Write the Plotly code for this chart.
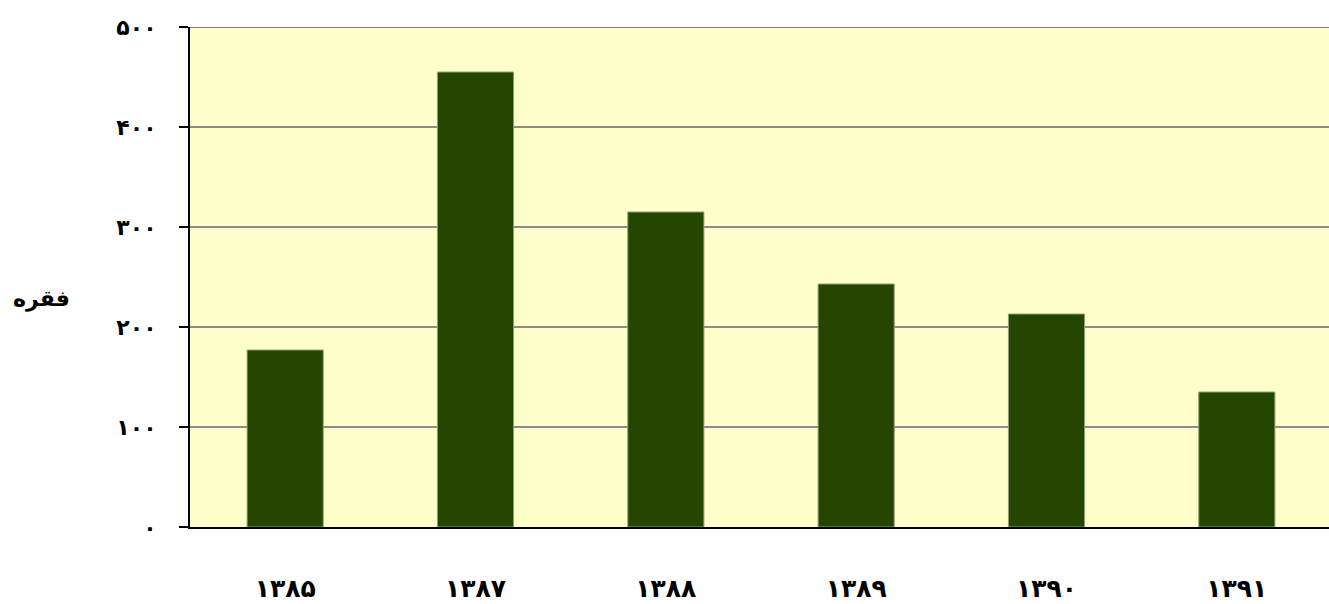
import plotly.graph_objects as go

categories = ["۱۳۸۵", "۱۳۸۷", "۱۳۸۸", "۱۳۸۹", "۱۳۹۰", "۱۳۹۱"]
values = [177, 455, 315, 243, 213, 135]
ytick_vals = [0, 100, 200, 300, 400, 500]
ytick_text = ["۰", "۱۰۰", "۲۰۰", "۳۰۰", "۴۰۰", "۵۰۰"]
y_title = "فقره"

fig = go.Figure()
fig.add_trace(go.Bar(
    x=categories, y=values,
    marker=dict(color="#254600", line=dict(color="#8f9f6f", width=1)),
))

fig.update_layout(
    width=1332, height=604,
    margin=dict(l=190, r=0, t=27, b=77),
    paper_bgcolor="white",
    plot_bgcolor="#ffffcc",
    bargap=0.6,
    showlegend=False,
    font=dict(family="DejaVu Sans", color="black"),
)
fig.update_xaxes(
    showline=True, linecolor="black", linewidth=2,
    ticks="", showgrid=False, automargin=False,
    tickfont=dict(size=25, family="DejaVu Sans", weight="bold"),
    ticklabelstandoff=38,
)
fig.update_yaxes(
    range=[0, 500], automargin=False,
    tickvals=ytick_vals, ticktext=ytick_text,
    showline=True, linecolor="black", linewidth=2,
    ticks="outside", ticklen=9, tickcolor="black", tickwidth=1.5,
    showgrid=True, gridcolor="#8c8c8c", gridwidth=1.5,
    tickfont=dict(size=22, family="DejaVu Sans", weight="bold"),
    ticklabelstandoff=18,
    zeroline=False,
)
# top gridline at the range maximum
fig.add_shape(type="line", xref="paper", yref="y", x0=0, x1=1,
              y0=ytick_vals[-1], y1=ytick_vals[-1],
              line=dict(color="#555555", width=1.5), layer="above")
fig.add_annotation(
    text=y_title, xref="paper", yref="paper", x=-0.13, y=0.455,
    xanchor="center", yanchor="middle", showarrow=False,
    font=dict(size=22, family="DejaVu Sans", weight="bold"),
)
fig.write_html("out.html", config={"displayModeBar": False},
               post_script="document.body.style.margin='0';document.body.style.overflow='hidden';")
